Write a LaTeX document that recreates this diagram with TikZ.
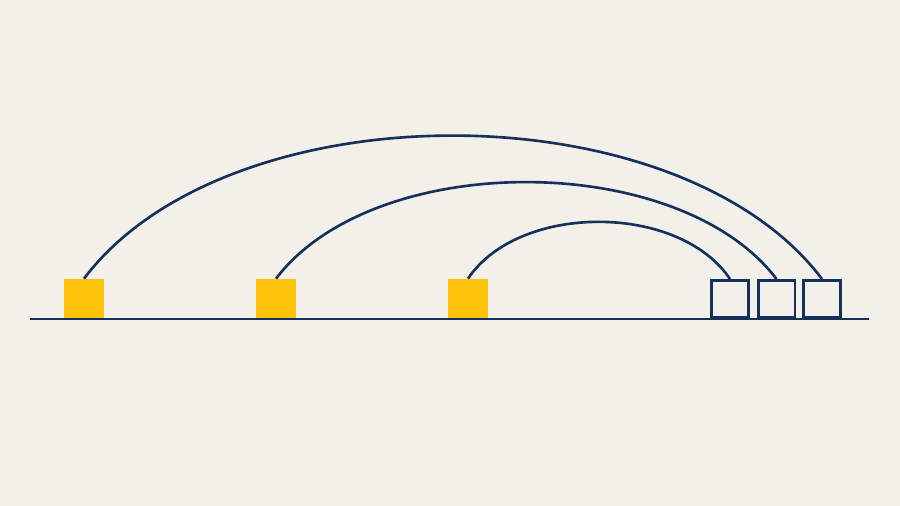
\documentclass[tikz,border=0pt]{standalone}
\definecolor{navy}{HTML}{15305A}
\definecolor{amber}{HTML}{FCC30B}
\definecolor{paper}{HTML}{F3F0EA}
\begin{document}
\begin{tikzpicture}[x=0.02cm, y=-0.02cm,
		filled/.style={fill=amber, minimum size=0.8cm, inner sep=0pt},
		hollow/.style={draw=navy, line width=1.7pt, minimum size=0.74cm, inner sep=0pt},
		link/.style={navy, line width=1.5pt}]
		\fill[paper] (0,0) rectangle (900,506);

		\node[filled] (src1) at (84,299) {};
		\node[filled] (src2) at (276,299) {};
		\node[filled] (src3) at (468,299) {};

		\node[hollow] (dst1) at (730,299) {};
		\node[hollow] (dst2) at (776.5,299) {};
		\node[hollow] (dst3) at (822,299) {};

		\draw[link] (src1.north) .. controls +(144,-191) and +(-144,-191) .. (dst3.north);
		\draw[link] (src2.north) .. controls +(98,-129) and +(-98,-129) .. (dst2.north);
		\draw[link] (src3.north) .. controls +(51,-76) and +(-51,-76) .. (dst1.north);

		\coordinate (left) at (30,319);
		\coordinate (right) at (869,319);
		\draw[navy, line width=1.7pt] (left) -- (right);
	\end{tikzpicture}
\end{document}
